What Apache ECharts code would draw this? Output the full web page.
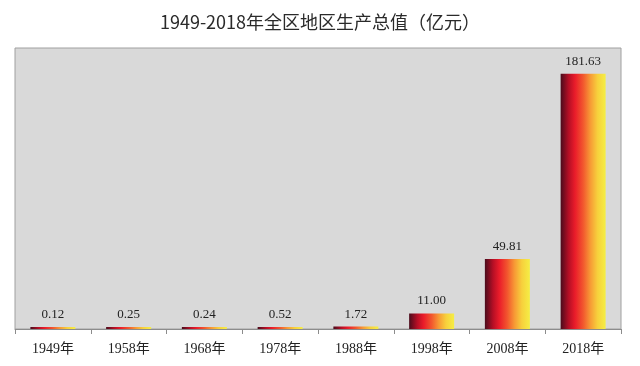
<!DOCTYPE html>
<html><head><meta charset="utf-8">
<script src="https://cdn.jsdelivr.net/npm/echarts@6/dist/echarts.min.js"></script>
<style>html,body{margin:0;padding:0;background:#fff}#c{width:640px;height:366px}</style>
</head><body><div id="c"></div>
<script>
const categories = ['1949年','1958年','1968年','1978年','1988年','1998年','2008年','2018年'];
const gdpValues = [0.12, 0.25, 0.24, 0.52, 1.72, 11.00, 49.81, 181.63];
const titleText = '1949-2018年全区地区生产总值（亿元）';

const chart = echarts.init(document.getElementById('c'));
const grad = new echarts.graphic.LinearGradient(0, 0, 1, 0, [
  {offset: 0, color: '#4a0c1c'},
  {offset: 0.18, color: '#b50f25'},
  {offset: 0.32, color: '#ea1c2a'},
  {offset: 0.5, color: '#f2572e'},
  {offset: 0.66, color: '#f79a35'},
  {offset: 0.82, color: '#f7d03c'},
  {offset: 1, color: '#f5ee45'}
]);
chart.setOption({
  backgroundColor: '#fff',
  title: {
    text: titleText, left: 'center', top: 8,
    textStyle: {fontFamily: 'Noto Sans CJK SC', fontSize: 18, fontWeight: 'normal', color: '#2a2a2a'}
  },
  grid: {left: 15, right: 19, top: 48, bottom: 37, show: true, backgroundColor: '#d9d9d9', borderColor: '#a0a0a0', borderWidth: 1},
  xAxis: {
    type: 'category', data: categories,
    axisLine: {lineStyle: {color: '#8c8c8c', width: 1}},
    axisTick: {show: true, length: 5, lineStyle: {color: '#8c8c8c'}},
    axisLabel: {fontFamily: 'Liberation Serif, Noto Sans CJK SC', fontSize: 14, color: '#222', margin: 13}
  },
  yAxis: {type: 'value', min: 0, max: 200, show: false, splitLine: {show: false}},
  series: [{
    type: 'bar', data: gdpValues, barWidth: 45, barMinHeight: 2,
    itemStyle: {color: grad},
    label: {show: true, position: 'top', distance: 6, formatter: p => p.value.toFixed(2),
      fontFamily: 'Liberation Serif', fontSize: 13, color: '#222'}
  }]
});
</script></body></html>
